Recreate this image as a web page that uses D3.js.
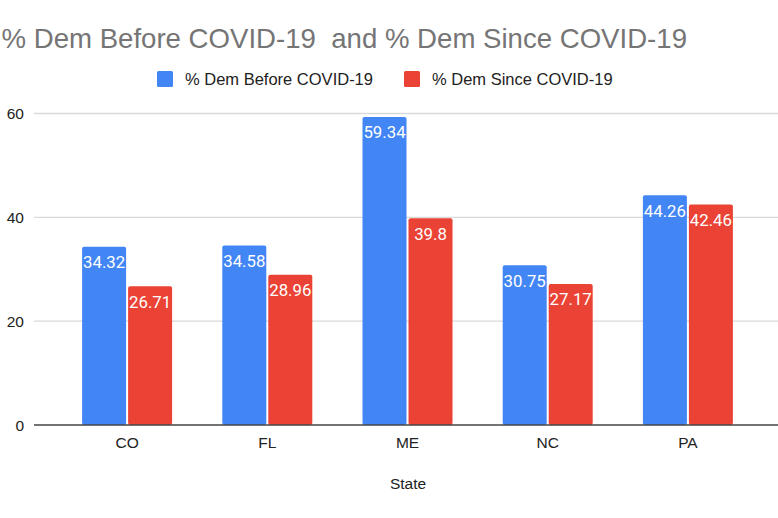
<!DOCTYPE html>
<html><head><meta charset="utf-8">
<script src="https://cdn.jsdelivr.net/npm/d3@7"></script>
<style>body{margin:0;background:#fff;}svg{display:block;}</style>
</head><body>
<svg id="c" width="778" height="518"></svg>
<script>
const categories = ["CO","FL","ME","NC","PA"];
const seriesNames = ["% Dem Before COVID-19","% Dem Since COVID-19"];
const before = [34.32,34.58,59.34,30.75,44.26];
const since = [26.71,28.96,39.8,27.17,42.46];
const yTicks = [0,20,40,60];
const colors = ["#4285f4","#ea4335"];
const titleText = "% Dem Before COVID-19  and % Dem Since COVID-19";
const xTitle = "State";

const svg = d3.select("#c");
const series = [before, since];
const x = d3.scaleBand().domain(categories).range([57, 758]).paddingInner(0).paddingOuter(0);
const y = d3.scaleLinear().domain([0,60]).range([425,113.5]);
const barW = 44, gap = 2;

// title
svg.append("text").attr("x",687).attr("y",48).attr("text-anchor","end")
  .attr("font-family","Liberation Sans, Arial, sans-serif").attr("font-size",27.6)
  .attr("fill","#757575").style("white-space","pre").text(titleText);

// legend
const legX = [157, 404];
seriesNames.forEach((n,i)=>{
  svg.append("rect").attr("x",legX[i]).attr("y",71).attr("width",16).attr("height",16).attr("rx",1.5).attr("fill",colors[i]);
  svg.append("text").attr("x",legX[i]+28).attr("y",84.5).attr("font-family","Liberation Sans, Arial, sans-serif")
    .attr("font-size",16.5).attr("fill","#222").text(n);
});

// gridlines
svg.append("g").selectAll("line").data(yTicks.filter(t=>t>0)).join("line")
  .attr("x1",34).attr("x2",778).attr("y1",d=>y(d)).attr("y2",d=>y(d))
  .attr("stroke","#d9d9d9").attr("stroke-width",1.3);

// y tick labels
svg.append("g").selectAll("text").data(yTicks).join("text")
  .attr("x",24).attr("y",d=>y(d)+5.5).attr("text-anchor","end")
  .attr("font-family","Liberation Sans, Arial, sans-serif").attr("font-size",15.5).attr("fill","#222")
  .text(d=>d);

// bars
series.forEach((vals,si)=>{
  const g = svg.append("g");
  g.selectAll("rect").data(vals).join("rect")
    .attr("x",(d,i)=>x(categories[i]) + x.bandwidth()/2 - barW - gap/2 + si*(barW+gap))
    .attr("y",d=>y(d)).attr("width",barW).attr("height",d=>y(0)-y(d))
    .attr("rx",2).attr("fill",colors[si]);
  g.selectAll("text").data(vals).join("text")
    .attr("x",(d,i)=>x(categories[i]) + x.bandwidth()/2 - gap/2 - barW/2 + si*(barW+gap))
    .attr("y",d=>y(d)+21.5).attr("text-anchor","middle")
    .attr("font-family","Roboto, sans-serif").attr("font-size",16.8).attr("fill","#fff")
    .text(d=>d);
});

// baseline axis
svg.append("line").attr("x1",34).attr("x2",778).attr("y1",y(0)).attr("y2",y(0))
  .attr("stroke","#444").attr("stroke-width",1.5);

// x labels
svg.append("g").selectAll("text").data(categories).join("text")
  .attr("x",d=>x(d)+x.bandwidth()/2).attr("y",447.5).attr("text-anchor","middle")
  .attr("font-family","Liberation Sans, Arial, sans-serif").attr("font-size",15.5).attr("fill","#222")
  .text(d=>d);

svg.append("text").attr("x",408).attr("y",488.5).attr("text-anchor","middle")
  .attr("font-family","Liberation Sans, Arial, sans-serif").attr("font-size",15.5).attr("fill","#222").text(xTitle);
</script>
</body></html>
